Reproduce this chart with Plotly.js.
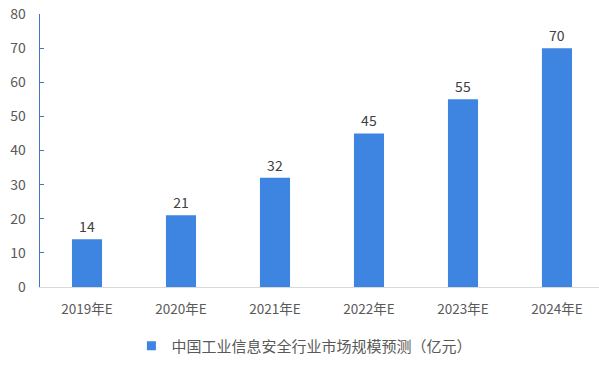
<!DOCTYPE html>
<html><head><meta charset="utf-8">
<script src="https://cdn.plot.ly/plotly-3.0.1.min.js"></script>
<style>html,body{margin:0;padding:0;background:#fff}#c{width:599px;height:367px}</style>
</head><body><div id="c"></div>
<script>
const categories = ["2019年E","2020年E","2021年E","2022年E","2023年E","2024年E"];
const values = [14,21,32,45,55,70];
const seriesName = "中国工业信息安全行业市场规模预测（亿元）";
const yTicks = [0,10,20,30,40,50,60,70,80];

const font = "'Noto Sans CJK SC', 'Noto Sans', sans-serif";
const color = "#3D85E0";
Plotly.newPlot("c", [{
  type: "bar",
  x: categories,
  y: values,
  name: seriesName,
  marker: {color: color},
  width: 0.32,
  text: values.map(String),
  textposition: "outside",
  textfont: {family: font, size: 14, color: "#404040"},
  cliponaxis: false,
  showlegend: false
}, {
  type: "scatter", mode: "markers",
  x: [categories[0]], y: [null],
  name: seriesName,
  marker: {symbol: "square", size: 9, color: color},
  showlegend: true, hoverinfo: "skip"
}], {
  width: 599, height: 367,
  margin: {l: 40, r: 0, t: 14, b: 80, autoexpand: false},
  paper_bgcolor: "#fff", plot_bgcolor: "#fff",
  font: {family: font, color: "#595959"},
  xaxis: {
    range: [-0.5, 5.447],
    showline: true, linecolor: "#D9D9D9", linewidth: 1,
    ticks: "", tickfont: {size: 13.5, color: "#595959"},
    showgrid: false, zeroline: false, ticklabelstandoff: 10
  },
  yaxis: {
    range: [0, 80], tickvals: yTicks,
    showline: true, linecolor: "#4472C4", linewidth: 1.5,
    ticks: "inside", ticklen: 4, tickcolor: "#4472C4",
    tickfont: {size: 14, color: "#595959"},
    showgrid: false, zeroline: false, ticklabelstandoff: 10
  },
  showlegend: true,
  legend: {orientation: "h", x: 0.473, xanchor: "center", y: -0.216, yanchor: "middle",
    itemwidth: 30, font: {size: 15, color: "#595959"}}
}, {displayModeBar: false, staticPlot: true});
</script></body></html>
